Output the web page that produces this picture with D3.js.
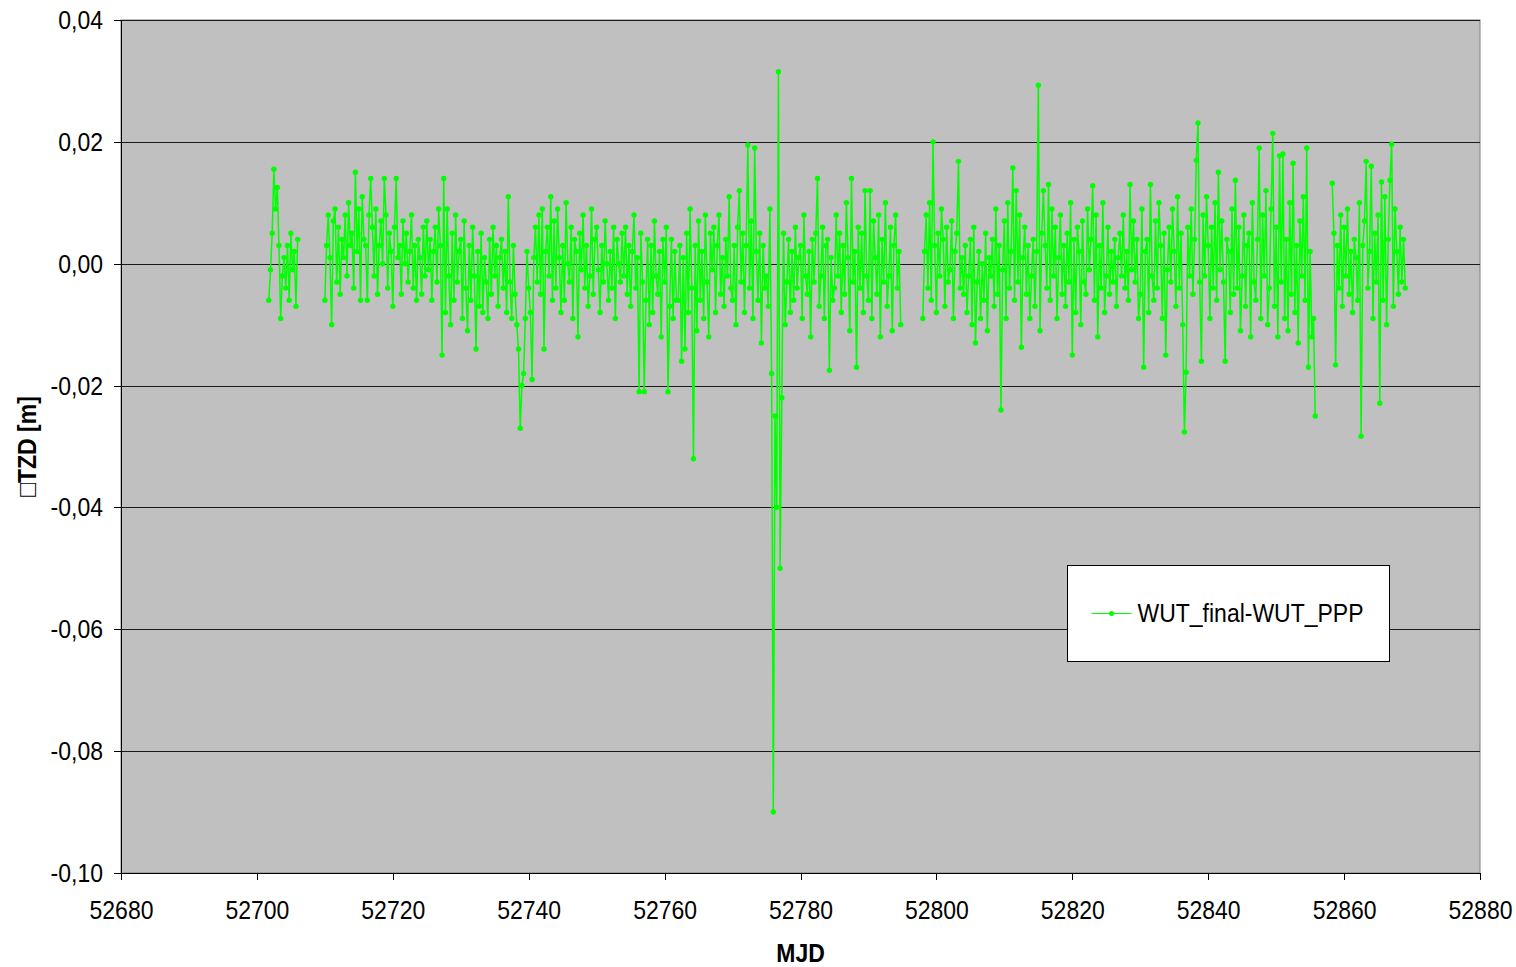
<!DOCTYPE html>
<html>
<head>
<meta charset="utf-8">
<script src="https://cdn.jsdelivr.net/npm/d3@7"></script>
<style>
  body { margin: 0; background: #fff; }
  text { font-family: "Liberation Sans", Arial, sans-serif; }
</style>
</head>
<body>
<div id="chart_svg"></div>
<script>

/* sampling of the series: 4 values per day, 4 separate runs of data */
var mjdStep = 0.25;
var segStarts = [52701.75, 52710, 52798, 52858.25];

// TZD differences in mm
var segA = [-6, -1, 5, 15.5, 9, 12.5, 3, -9, -2, 1, -4, 3, -6, 5, -1, 2, -7, 4];

var segB = [
  -6, 3, 8, 1,   -10, 7, 9, -3,   6, -5, 4, 1,   8, -2, 10, 3,
  5, -4, 15, 2,   9, -6, 11, 4,   3, -6, 8, 14,   6, -2, 9, -5,
  3, 7, 0, 14,   8, -4, 5, 2,   -7, 6, 14, 1,   3, -5, 7, 0,
  5, -3, 2, 8,   -4, 3, -6, 4,   1, -5, 6, -2,   7, -1, 4, -6,
  2, 6, -3, 9,   3, -15, 14, -8,   9, -2, -10, 5,   -6, 8, -3, 2,
  4, -9, 7, -4,   -11, 3, -6, 6,   -2, -14, 2, -7,   5, -8, 1, -3,
  -9, 4, -5, 6,   -2, 3, -7, 1,   4, -4, 2, -8,   11, -3, -9, 3,
  -5, -10, -14, -27,   -20, -18, -9, 2,   -4, -8, -19, 1,   6, -3, 8, -5,
  9, -14, 2, 6,   -2, 11, -6, 7,   -4, 9, 1, -8,   3, -6, 10, 0,
  -3, 6, -9, 4,   2, -12, 5, -1,   8, -4, 3, -7,   -2, 9, -5, 4,
  6, -1, -8, 3,   -3, 7, 0, -6,   2, -4, 6, -9,   4, 0, -3, 5,
  -2, 6, -5, 3,   -7, 2, 8, -4,   1, -21, 5, -3,   -21, -6, 4, -10,
  3, -8, 7, -2,   -5, 2, -12, 4,   -3, 6, -21, -7,   4, -9, 2, -6,
  -6, 3, -16, 1,   -14, 5, -8, 9,   -4, -32, 3, -11,   7, -6, 2, -9,
  8, -3, -12, 5,   -1, 6, -8, 3,   8, -5, 1, -7,   4, -2, 11, -4,
  -6, 3, -10, 6,   12, -3, 5, -8,   3, 19.5, -4, 7,   -9, 19, 2, -6,
  5, -13, 3, -4,   -2, -7, 9, -18,   -90, -25, -40, 31.5,   -50, -22, 5, -10,
  -3, 4, -8, 2,   -6, 6, -4, 1,   3, -9, 8, -2,   -5, 2, -12, 4,
  -3, 5, 14, -7,   -2, 6, -9, 3,   4, -17.5, 1, -6,   -4, 8, -2, 5,
  -8, 3, -5, 10,   1, -11, 14, -3,   2, -17, 6, -4,   5, -8, 12, -2,
  -6, 12, -9, 7,   1, -5, 8, -12,   4, -3, 10, -7,   -2, 6, -11, 3,
  8, -4, 2, -10
];

var segC = [
  -9, 2, 8, -4,   10, -6, 20, 3,   -8, 5, -2, 9,   4, -7, 6, -3,
  -1, 7, -9, 2,   5, 16.8, -4, 1,   -5, 3, -8, -2,   4, -10, 6, -13,
  -3, 2, -9, 0,   -6, 5, -11, 1,   -2, 4, -7, 9,   -5, 3, -24, -1,
  7, -9, 10, -4,   2, 15.7, -6, 12,   -3, 8, -13.7, 1,   6, -5, 3, -9,
  -2, 4, -7, 2,   29.3, -11, 5, 12,   3, -4, 13, -6,   9, -2, 6, -9,
  1, 8, -5, 3,   -7, 5, -3, 10,   -15, 4, -8, 6,   2, -10, 7, -3,
  -5, 9, -1, 4,   12.8, -6, 8, -12,   3, -4, 10, -8,   -2, 6, -5, 2,
  -3, 4, -7, 1,   5, -2, 8, -4,   2, -6, 13, -1,   7, -3, 4, -9,
  -5, 9, -17, 2,   4, -8, 13, -2,   -6, 7, -4, 10,   3, -9, 5, -15,
  -1, 6, -3, 9,   2, -7, 11, -4,   5, -10, -27.6, -17.8,   6, -2, 9, -5,
  4, 17, 23.1, -3,   -16, 8, -2, 11,   3, -9, 6, -4,   10, -6, 15, -1,
  7, -3, -16, 4,   2, -8, 9, -5,   13.7, -4, 6, -11,   -2, 8, -7, 3,
  5, -12, 10, -3,   -6, 4, 19, -9,   8, -2, 12, -10,   -4, 9, 21.4, -7,
  6, -12, 17.7, -3,   18, -9, 4, -11,   10, -5, 16.5, -8,   3, -13, 7, -2,
  11, -6, 19, -17,   2, -12, -9, -25
];

var segD = [
  13.2, 5, -16.6,
  3, -4, 8, -7,   6, -2, 9, -5,   2, -8, 4, 1,   -6, 10, -28.3, 3,
  7, 16.8, -4, 2,   16, -9, 5, -3,   8, -22.9, 13.4, -6,   11, -10, 4, 13.7,
  19.6, -7, 9, 2,   -5, 6, -3, 4,
  -4
];

var xTicks = [52680, 52700, 52720, 52740, 52760, 52780, 52800, 52820, 52840, 52860, 52880];
var yTicks = [-0.10, -0.08, -0.06, -0.04, -0.02, 0.00, 0.02, 0.04];
var seriesName = "WUT_final-WUT_PPP";

// glyphs in the source are drawn a bit taller than plain Arial
var textStretch = "scale(1,1.15)";


/*
 Draw the line chart with markers
*/
function draw_lineChart() {

    var margin = {top: 20, right: 36, bottom: 94, left: 121},
        width = 1516 - margin.left - margin.right,
        height = 967 - margin.top - margin.bottom;

    var x = d3.scaleLinear().domain([52680, 52880]).range([0, width]);
    var y = d3.scaleLinear().domain([-0.10, 0.04]).range([height, 0]);

    var locale = d3.formatLocale({decimal: ",", thousands: ".", grouping: [3], currency: ["", ""], minus: "-"});
    var yFormat = locale.format(".2f");

    var svg = d3.select("#chart_svg").append("svg")
        .attr("width", 1516)
        .attr("height", 967);

    var g = svg.append("g")
        .attr("transform", "translate(" + margin.left + "," + margin.top + ")");

    // plot area
    g.append("rect")
        .attr("x", 0).attr("y", 0)
        .attr("width", width).attr("height", height)
        .style("fill", "#c0c0c0")
        .style("stroke", "#808080")
        .style("stroke-width", 1);

    // horizontal grid
    g.selectAll(".grid")
        .data(yTicks)
      .enter().append("line")
        .attr("class", "grid")
        .attr("x1", 0).attr("x2", width)
        .attr("y1", function(d) { return Math.round(y(d)) + 0.5; })
        .attr("y2", function(d) { return Math.round(y(d)) + 0.5; })
        .style("stroke", "#1a1a1a")
        .style("stroke-width", 1);

    // y axis
    g.append("g")
        .attr("class", "y axis")
        .call(d3.axisLeft(y).tickValues(yTicks).tickSize(7).tickPadding(11).tickFormat(yFormat));

    // x axis
    g.append("g")
        .attr("class", "x axis")
        .attr("transform", "translate(0," + height + ")")
        .call(d3.axisBottom(x).tickValues(xTicks).tickSize(7).tickPadding(16.5).tickFormat(d3.format("d")));

    svg.selectAll(".axis text")
        .style("font-size", "23px")
        .style("fill", "#000")
        .attr("transform", textStretch);
    svg.selectAll(".axis path, .axis line")
        .style("stroke", "#000")
        .attr("shape-rendering", "crispEdges");

    // axis titles
    svg.append("text")
        .attr("transform", "translate(" + (margin.left + width / 2) + ",962) " + textStretch)
        .attr("text-anchor", "middle")
        .style("font-size", "23px")
        .style("font-weight", "bold")
        .text("MJD");

    svg.append("text")
        .attr("transform", "translate(36," + (margin.top + height / 2) + ") rotate(-90) " + textStretch)
        .attr("text-anchor", "middle")
        .style("font-size", "23px")
        .style("font-weight", "bold")
        .text("\u25A1TZD [m]");

    // build the runs of data
    var runs = [segA, segB, segC, segD].map(function(vals, s) {
        return vals.map(function(v, i) {
            return {mjd: segStarts[s] + i * mjdStep, tzd: v / 1000};
        });
    });

    var line = d3.line()
        .x(function(d) { return x(d.mjd); })
        .y(function(d) { return y(d.tzd); });

    g.selectAll(".run")
        .data(runs)
      .enter().append("path")
        .attr("class", "run")
        .attr("d", line)
        .style("fill", "none")
        .style("stroke", "#00ff00")
        .style("stroke-width", 1.5);

    var allPoints = [].concat.apply([], runs);
    g.selectAll(".dot")
        .data(allPoints)
      .enter().append("circle")
        .attr("class", "dot")
        .attr("cx", function(d) { return x(d.mjd); })
        .attr("cy", function(d) { return y(d.tzd); })
        .attr("r", 2.7)
        .style("fill", "#00ff00");

    // legend
    var legend = svg.append("g")
        .attr("transform", "translate(1067.5,565.5)");
    legend.append("rect")
        .attr("width", 322).attr("height", 96)
        .style("fill", "#fff")
        .style("stroke", "#000")
        .style("stroke-width", 1);
    legend.append("line")
        .attr("x1", 24).attr("x2", 64)
        .attr("y1", 48).attr("y2", 48)
        .style("stroke", "#00ff00")
        .style("stroke-width", 1.2);
    legend.append("circle")
        .attr("cx", 44).attr("cy", 48).attr("r", 2.5)
        .style("fill", "#00ff00");
    legend.append("text")
        .attr("transform", "translate(70,56) " + textStretch)
        .style("font-size", "23px")
        .text(seriesName);
}

draw_lineChart();

</script>
</body>
</html>
